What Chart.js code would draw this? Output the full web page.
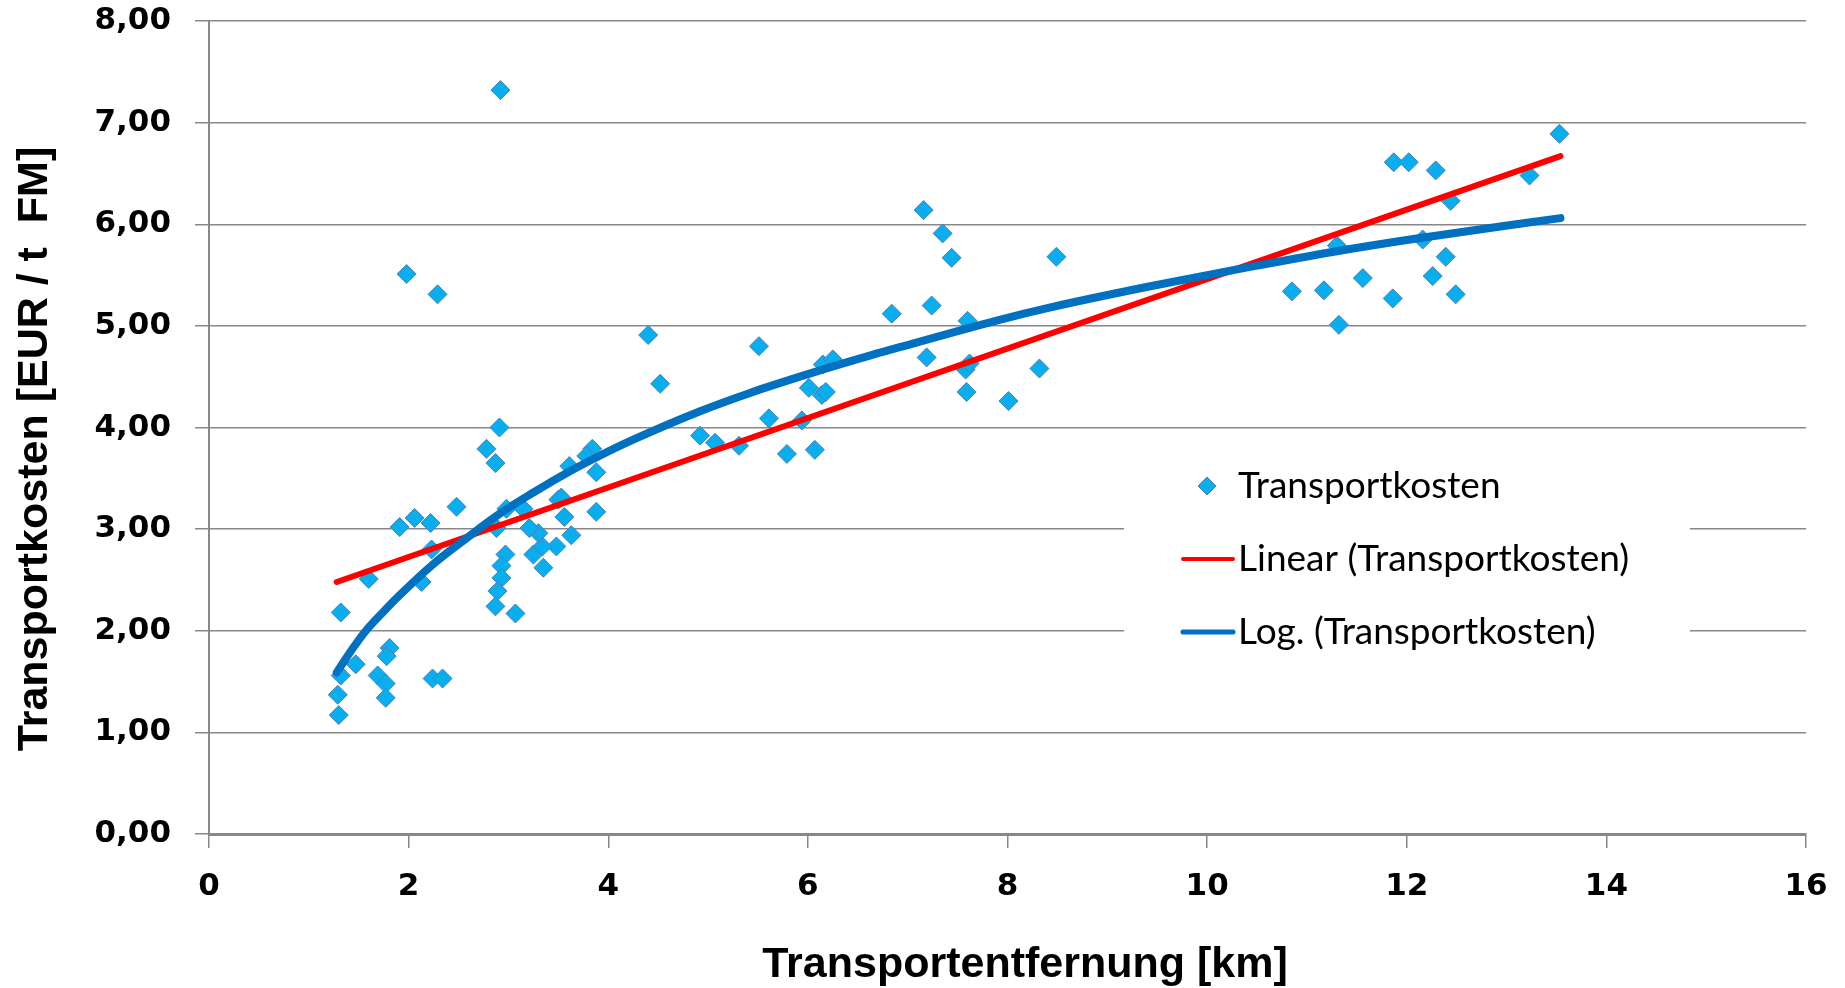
<!DOCTYPE html>
<html>
<head>
<meta charset="utf-8">
<title>Transportkosten</title>
<script src="https://cdn.jsdelivr.net/npm/chart.js@4.4.1/dist/chart.umd.min.js"></script>
<style>
  html, body { margin: 0; padding: 0; background: #fff; }
  #wrap { width: 1845px; height: 988px; position: relative; }
</style>
</head>
<body>
<div id="wrap"><canvas id="chart"></canvas></div>
<script>
// scatter points
const distanceKm = [
  2.92, 1.98, 2.29, 4.40, 4.52, 5.51, 2.91, 2.78, 2.87, 2.48,
  2.06, 1.91, 2.22, 3.84, 3.88, 3.61, 3.78, 3.88, 3.63, 3.56,
  3.50, 3.53, 3.48, 3.35, 3.25, 3.34, 3.30, 3.21, 3.15, 2.98,
  2.88, 2.97, 2.93, 2.93, 2.89, 2.87, 3.07, 2.23, 2.13, 1.60,
  1.32, 1.47, 1.81, 1.78, 1.69, 1.77, 1.77, 1.32, 1.29, 1.30,
  2.24, 2.34, 4.92, 5.07, 5.31, 5.61, 5.79, 5.94, 6.07, 6.01,
  6.15, 6.25, 6.14, 6.18, 6.84, 7.24, 7.44, 7.60, 7.19, 7.58,
  7.62, 7.59, 8.01, 8.32, 7.16, 7.35, 8.49, 13.53, 11.87, 12.02,
  12.29, 13.23, 12.44, 11.30, 12.16, 12.39, 12.26, 11.56, 10.85, 11.17,
  11.86, 12.49, 11.32
];
const costEur = [
  7.32, 5.51, 5.31, 4.91, 4.43, 4.80, 4.00, 3.79, 3.65, 3.22,
  3.11, 3.02, 3.06, 3.79, 3.56, 3.62, 3.72, 3.17, 2.94, 3.12,
  3.29, 3.31, 2.83, 2.62, 2.75, 2.83, 2.96, 3.01, 3.20, 3.20,
  3.01, 2.75, 2.64, 2.52, 2.39, 2.24, 2.17, 2.80, 2.48, 2.51,
  2.18, 1.67, 1.83, 1.75, 1.56, 1.48, 1.34, 1.56, 1.37, 1.17,
  1.53, 1.53, 3.92, 3.85, 3.82, 4.09, 3.74, 4.07, 3.78, 4.39,
  4.62, 4.67, 4.32, 4.35, 5.12, 5.20, 5.67, 5.05, 4.69, 4.57,
  4.63, 4.35, 4.26, 4.58, 6.14, 5.91, 5.68, 6.89, 6.61, 6.61,
  6.53, 6.48, 6.23, 5.79, 5.85, 5.68, 5.49, 5.47, 5.34, 5.35,
  5.27, 5.31, 5.01
];

// trend lines as they appear in the picture
const linearX = [1.28, 13.54];
const linearY = [2.48, 6.67];
const logX = [1.28, 1.34, 1.45, 1.58, 1.75, 1.91, 2.24, 2.58, 2.91, 3.25, 3.58, 3.91,
              4.25, 4.92, 5.42, 5.92, 6.42, 6.92, 7.92, 8.42, 9.43, 10.43, 11.27, 12.10, 13.54];
const logY = [1.59, 1.68, 1.84, 2.01, 2.19, 2.35, 2.65, 2.91, 3.15, 3.36, 3.55, 3.72,
              3.88, 4.16, 4.34, 4.50, 4.65, 4.79, 5.06, 5.18, 5.39, 5.58, 5.73, 5.86, 6.06];

const xTickLabels = ["0", "2", "4", "6", "8", "10", "12", "14", "16"];
const yTickLabels = ["0,00", "1,00", "2,00", "3,00", "4,00", "5,00", "6,00", "7,00", "8,00"];
const seriesNames = ["Transportkosten", "Linear (Transportkosten)", "Log. (Transportkosten)"];
const xTitle = "Transportentfernung [km]";
const yTitle = "Transportkosten [EUR / t  FM]";

const toPoints = (xs, ys) => xs.map((x, i) => ({ x: x, y: ys[i] }));

const gridGrey = "#888888";
const markerFill = "#09AEEE";
const markerEdge = "#4A7EBB";

// axis titles sit a little off-centre in the original, so draw them here
const axisTitles = {
  id: "axisTitles",
  afterDraw(chart) {
    const ctx = chart.ctx;
    ctx.save();
    ctx.fillStyle = "#000";
    ctx.font = "bold 43px 'Liberation Sans'";
    ctx.textAlign = "center";
    ctx.textBaseline = "middle";
    ctx.fillText(xTitle, 1025, 965);
    ctx.translate(35, 449);
    ctx.rotate(-Math.PI / 2);
    ctx.fillText(yTitle, 0, 0);
    ctx.restore();
  }
};

// legend sits inside the plot on a white box, like the Excel original
const insideLegend = {
  id: "insideLegend",
  afterDatasetsDraw(chart) {
    const ctx = chart.ctx;
    ctx.save();
    ctx.fillStyle = "#fff";
    ctx.fillRect(1124, 446, 566, 230);

    ctx.font = "37px Lato";
    ctx.textBaseline = "middle";
    ctx.textAlign = "left";

    // diamond marker
    const mx = 1207, my = 486, r = 9;
    ctx.beginPath();
    ctx.moveTo(mx - r, my);
    ctx.lineTo(mx, my - r);
    ctx.lineTo(mx + r, my);
    ctx.lineTo(mx, my + r);
    ctx.closePath();
    ctx.fillStyle = markerFill;
    ctx.fill();
    ctx.strokeStyle = markerEdge;
    ctx.lineWidth = 1;
    ctx.stroke();
    ctx.fillStyle = "#000";
    ctx.fillText(seriesNames[0], 1238, 486);

    ctx.lineCap = "round";
    ctx.lineWidth = 4;
    ctx.strokeStyle = "#FF0000";
    ctx.beginPath();
    ctx.moveTo(1183, 559);
    ctx.lineTo(1233, 559);
    ctx.stroke();
    ctx.fillText(seriesNames[1], 1238, 559);

    ctx.lineWidth = 5;
    ctx.strokeStyle = "#0070C0";
    ctx.beginPath();
    ctx.moveTo(1183, 632);
    ctx.lineTo(1233, 632);
    ctx.stroke();
    ctx.fillText(seriesNames[2], 1238, 632);
    ctx.restore();
  }
};

const ctx = document.getElementById("chart").getContext("2d");
new Chart(ctx, {
  type: "scatter",
  data: {
    datasets: [
      {
        label: seriesNames[2],
        data: toPoints(logX, logY),
        showLine: true,
        borderColor: "#0070C0",
        borderWidth: 8,
        borderCapStyle: "round",
        cubicInterpolationMode: "monotone",
        pointRadius: 0,
        order: 0,
      },
      {
        label: seriesNames[1],
        data: toPoints(linearX, linearY),
        showLine: true,
        borderColor: "#FF0000",
        borderWidth: 6,
        borderCapStyle: "round",
        pointRadius: 0,
        order: 1,
      },
      {
        label: seriesNames[0],
        data: toPoints(distanceKm, costEur),
        pointStyle: "rectRot",
        pointRadius: 9.5,
        pointBackgroundColor: markerFill,
        pointBorderColor: markerEdge,
        pointBorderWidth: 1,
        order: 2,
      },
    ],
  },
  options: {
    responsive: true,
    maintainAspectRatio: false,
    animation: false,
    layout: { padding: { top: 21, right: 39, left: 0, bottom: 0 } },
    plugins: {
      legend: { display: false },
      tooltip: { enabled: false },
    },
    scales: {
      x: {
        type: "linear",
        min: 0,
        max: 16,
        afterFit: (scale) => {
          scale.height = 154;
          scale.paddingLeft = 0;
          scale.paddingRight = 0;
        },
        ticks: {
          stepSize: 2,
          padding: 20,
          color: "#000",
          font: { family: "DejaVu Sans", weight: "bold", size: 31 },
          callback: (value, index) => xTickLabels[index],
        },
        grid: { drawOnChartArea: false, drawTicks: true, tickLength: 14, color: gridGrey, lineWidth: 1.5 },
        border: { display: true, color: gridGrey, width: 3 },
      },
      y: {
        type: "linear",
        min: 0,
        max: 8,
        afterFit: (scale) => {
          scale.width = 209;
          scale.paddingTop = 0;
          scale.paddingBottom = 0;
        },
        ticks: {
          stepSize: 1,
          padding: 24,
          color: "#000",
          font: { family: "DejaVu Sans", weight: "bold", size: 31 },
          callback: (value, index) => yTickLabels[index],
        },
        grid: { drawTicks: true, tickLength: 14, color: gridGrey, lineWidth: 1.5 },
        border: { display: true, color: gridGrey, width: 2 },
      },
    },
  },
  plugins: [insideLegend, axisTitles],
});
</script>
</body>
</html>
